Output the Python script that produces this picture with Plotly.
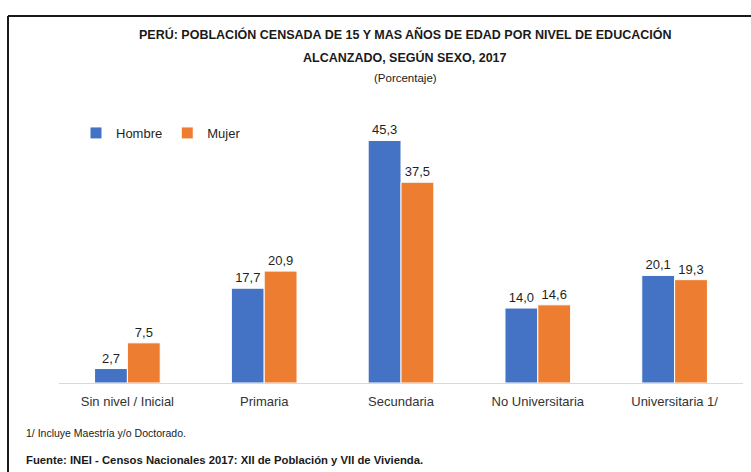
import plotly.graph_objects as go

niveles = ["Sin nivel / Inicial", "Primaria", "Secundaria", "No Universitaria", "Universitaria 1/"]
hombre = [2.7, 17.7, 45.3, 14.0, 20.1]
mujer = [7.5, 20.9, 37.5, 14.6, 19.3]

W, H = 751, 472
L, R, T, B = 59, 8, 126, 89
FONT = "Liberation Sans Narrow, Arial Narrow, Liberation Sans, Arial"

def px(x):
    return (x - L) / (W - L - R)

def py(y):
    return (H - B - y) / (H - T - B)

def fmt(v):
    return f"{v:.1f}".replace(".", ",")

fig = go.Figure()
fig.add_trace(go.Bar(x=niveles, y=hombre, name="Hombre", marker_color="#4472C4",
                     marker_line=dict(color="white", width=1),
                     text=[fmt(v) for v in hombre], textposition="outside", cliponaxis=False))
fig.add_trace(go.Bar(x=niveles, y=mujer, name="Mujer", marker_color="#ED7D31",
                     marker_line=dict(color="white", width=1),
                     text=[fmt(v) for v in mujer], textposition="outside", cliponaxis=False))

fig.update_traces(textfont=dict(family=FONT, size=13, color="#1f1f1f"))

fig.update_layout(
    width=W, height=H,
    margin=dict(l=L, r=R, t=T, b=B),
    paper_bgcolor="white", plot_bgcolor="white",
    barmode="group", bargap=0.52, bargroupgap=0,
    font=dict(family=FONT, size=13, color="#404040"),
    showlegend=True,
    legend=dict(orientation="h", x=px(76), y=py(133), xanchor="left", yanchor="middle",
                font=dict(family=FONT, size=13, color="#1f1f1f"),
                itemwidth=30, tracegroupgap=0),
    xaxis=dict(showline=True, linecolor="#d9d9d9", linewidth=1, ticks="",
               ticklabelstandoff=6,
               tickfont=dict(family=FONT, size=13, color="#333333")),
    yaxis=dict(range=[0, 48], visible=False),
)

notas = [
    ("<b>PERÚ: POBLACIÓN CENSADA DE 15 Y MAS AÑOS DE EDAD POR NIVEL DE EDUCACIÓN</b>", 405, 35, 12.5, "center"),
    ("<b>ALCANZADO, SEGÚN SEXO, 2017</b>", 405, 57, 12.5, "center"),
    ("(Porcentaje)", 405, 78, 11.5, "center"),
    ("1/ Incluye Maestría y/o Doctorado.", 24, 433, 10.5, "left"),
    ("<b>Fuente: INEI - Censos Nacionales 2017: XII de Población y VII de Vivienda.</b>", 24, 460, 11.3, "left"),
]
for texto, x, y, size, anchor in notas:
    fig.add_annotation(text=texto, x=px(x), y=py(y), xref="paper", yref="paper", showarrow=False,
                       xanchor=anchor, yanchor="middle",
                       font=dict(family=FONT, size=size, color="#1a1a1a"))

# marco
fig.add_shape(type="line", xref="paper", yref="paper", x0=px(8), x1=px(751), y0=py(16), y1=py(16),
              line=dict(color="#1a1a1a", width=2))
fig.add_shape(type="line", xref="paper", yref="paper", x0=px(8), x1=px(8), y0=py(16), y1=py(472),
              line=dict(color="#1a1a1a", width=2))

fig.write_html("out.html", config={"displayModeBar": False},
               post_script="document.body.style.margin='0';")
